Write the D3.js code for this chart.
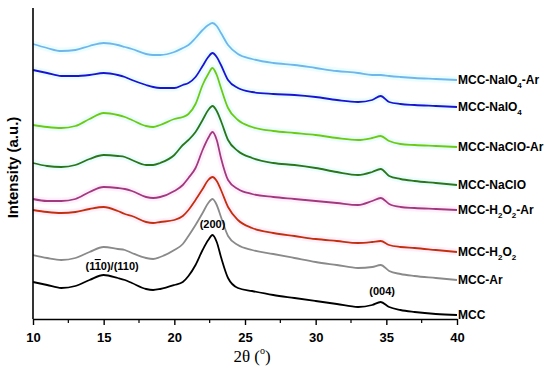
<!DOCTYPE html>
<html>
<head>
<meta charset="utf-8">
<script src="https://cdn.jsdelivr.net/npm/d3@7"></script>
<style>
  body { margin: 0; background: #fff; }
  .axis text { font-family: Arial, "Liberation Sans", sans-serif; font-weight: bold; font-size: 13px; }
  .lbl { font-family: Arial, "Liberation Sans", sans-serif; font-weight: bold; font-size: 12px; }
  .peak { font-family: Arial, "Liberation Sans", sans-serif; font-weight: bold; font-size: 11px; }
</style>
</head>
<body>
<svg width="550" height="371"></svg>
<script>
// 2theta positions where the patterns were read
var twoTheta = [10, 11, 12, 13, 14, 15, 16, 16.5, 17, 18, 18.5, 19, 20, 20.6, 21, 21.5, 22, 22.4, 22.7, 23,
  23.3, 23.8, 24.5, 25.5, 27, 28.5, 30, 31.5, 33, 34, 34.6, 35.2, 36, 37, 38.5, 40];

// intensities (a.u., already offset like in the figure)
var mcc = [37,34,31,33,39,44,41,39,36,30,29,30,34,37,43,54,69,79,84,77,62,41,31,28,24,21,18,15,12,14,17,12,9,7,5,4];
var mccAr = [64,61,59,61,67,72,70,69,66,61,60,62,69,75,83,94,106,116,120,114,102,83,74,69,65,61,57,54,51,52,54,48,45,43,41,39];
var mccH2O2 = [109,107,106,107,110,112,108,105,103,97,96,97,99,103,109,119,130,139,142,138,129,112,99,91,86,83,80,78,76,77,78,74,72,71,69,67];
var mccH2O2Ar = [120,118,118,120,127,132,131,130,128,122,121,122,128,134,141,151,169,181,187,179,161,139,130,125,122,120,118,116,114,118,121,115,112,111,110,109];
var mccNaClO = [156,153,152,154,160,164,163,162,159,154,154,156,164,174,179,187,199,209,213,208,198,179,168,161,156,154,151,147,144,147,150,143,140,138,136,134];
var mccNaClOAr = [194,192,191,193,200,206,204,202,199,193,192,194,200,202,205,215,234,245,251,244,231,211,199,192,188,186,184,181,179,181,183,178,175,174,173,172];
var mccNaIO4 = [249,246,243,243,244,246,244,242,239,234,232,231,231,234,236,242,253,262,266,262,254,239,231,227,225,224,222,219,217,219,223,217,215,214,213,212];
var mccNaIO4Ar = [275,271,268,269,273,276,274,272,270,265,264,264,267,271,274,281,289,294,296,293,286,274,265,260,256,254,251,248,246,244,244,243,242,241,240,239];

var xTicks = [10, 15, 20, 25, 30, 35, 40];

var series = [
  {values: mccNaIO4Ar, color: "#6fb6ea", halo: "#66eeff", label: [["MCC-NaIO"], ["4", 1], ["-Ar"]]},
  {values: mccNaIO4, color: "#1a14d2", halo: "#66eeff", label: [["MCC-NaIO"], ["4", 1]]},
  {values: mccNaClOAr, color: "#6ccb10", halo: "#66eeff", label: [["MCC-NaClO-Ar"]]},
  {values: mccNaClO, color: "#2c761a", halo: "#66eeff", label: [["MCC-NaClO"]]},
  {values: mccH2O2Ar, color: "#a2397f", halo: "#ff88dd", label: [["MCC-H"], ["2", 1], ["O"], ["2", 1], ["-Ar"]]},
  {values: mccH2O2, color: "#c4300e", halo: "#ff88dd", label: [["MCC-H"], ["2", 1], ["O"], ["2", 1]]},
  {values: mccAr, color: "#8a8a8a", halo: null, label: [["MCC-Ar"]]},
  {values: mcc, color: "#000000", halo: null, label: [["MCC"]]}
];

var svg = d3.select("svg"),
    margin = {top: 8, right: 93, bottom: 52, left: 33},
    width = +svg.attr("width") - margin.left - margin.right,
    height = +svg.attr("height") - margin.top - margin.bottom;

var x = d3.scaleLinear().domain([10, 40]).range([0, width]);
var y = d3.scaleLinear().domain([0, 311]).range([height, 0]);

var g = svg.append("g")
    .attr("transform", "translate(" + margin.left + "," + margin.top + ")");

var line = d3.line()
    .x(function(d, i) { return x(twoTheta[i]); })
    .y(function(d) { return y(d); })
    .curve(d3.curveMonotoneX);

// faint halos like in the original scan
series.forEach(function(s) {
  if (!s.halo) return;
  g.append("path")
    .attr("d", line(s.values))
    .attr("fill", "none")
    .attr("stroke", s.halo)
    .attr("stroke-opacity", 0.13)
    .attr("stroke-width", 7);
});

series.forEach(function(s) {
  g.append("path")
    .attr("d", line(s.values))
    .attr("fill", "none")
    .attr("stroke", s.color)
    .attr("stroke-width", 1.8)
    .attr("stroke-linejoin", "round");

  var last = s.values[s.values.length - 1];
  var t = g.append("text")
    .attr("class", "lbl")
    .attr("x", width + 1)
    .attr("y", y(last) + 4);
  s.label.forEach(function(p) {
    var ts = t.append("tspan").text(p[0]);
    if (p[1]) ts.attr("font-size", "8px").attr("dy", 4);
    else if (ts.node().previousSibling) ts.attr("dy", -4);
  });
});

// x axis with minor ticks
g.append("g")
    .attr("class", "axis axis--x")
    .attr("transform", "translate(0," + height + ")")
    .call(d3.axisBottom(x).tickValues(xTicks).tickSize(6).tickSizeOuter(0).tickFormat(d3.format("d")))
    .call(function(a) {
      a.select(".domain").attr("stroke-width", 1.6);
      a.selectAll(".tick line").attr("stroke-width", 1.4);
      a.selectAll(".tick text").attr("dy", "1.05em");
    });

g.append("g")
    .attr("transform", "translate(0," + height + ")")
    .selectAll("line")
    .data(d3.range(12.5, 40, 5))
    .enter().append("line")
      .attr("x1", function(d) { return x(d); })
      .attr("x2", function(d) { return x(d); })
      .attr("y1", 0)
      .attr("y2", 4)
      .attr("stroke", "#000")
      .attr("stroke-width", 1.2);

// y axis, plain line
g.append("line")
    .attr("x1", 0).attr("x2", 0)
    .attr("y1", 0).attr("y2", height)
    .attr("stroke", "#000")
    .attr("stroke-width", 1.6);

// peak labels
g.append("text").attr("class", "peak")
    .attr("x", x(22.7)).attr("y", y(84) - 7)
    .attr("text-anchor", "middle").text("(200)");
g.append("text").attr("class", "peak")
    .attr("x", x(34.7)).attr("y", y(17) - 7)
    .attr("text-anchor", "middle").text("(004)");
var hkl = g.append("text").attr("class", "peak")
    .attr("x", x(15.6)).attr("y", y(44) - 5)
    .attr("text-anchor", "middle");
hkl.append("tspan").text("(1");
hkl.append("tspan").style("text-decoration", "overline").text("1");
hkl.append("tspan").text("0)/(110)");

// axis titles
svg.append("text")
    .attr("x", margin.left + x(25.5))
    .attr("y", 362)
    .attr("text-anchor", "middle")
    .style("font-family", "'Liberation Serif', 'Times New Roman', serif")
    .style("font-size", "17px")
    .text("2\u03b8 (")
  .append("tspan").attr("font-size", "10px").attr("dy", -8).text("o")
  .select(function() { return this.parentNode; })
  .append("tspan").attr("dy", 8).text(")");

svg.append("text")
    .attr("transform", "translate(18," + (margin.top + height / 2 + 4) + ") rotate(-90)")
    .attr("text-anchor", "middle")
    .style("font-family", "Arial, 'Liberation Sans', sans-serif")
    .style("font-weight", "bold")
    .style("font-size", "15px")
    .text("Intensity (a.u.)");
</script>
</body>
</html>
